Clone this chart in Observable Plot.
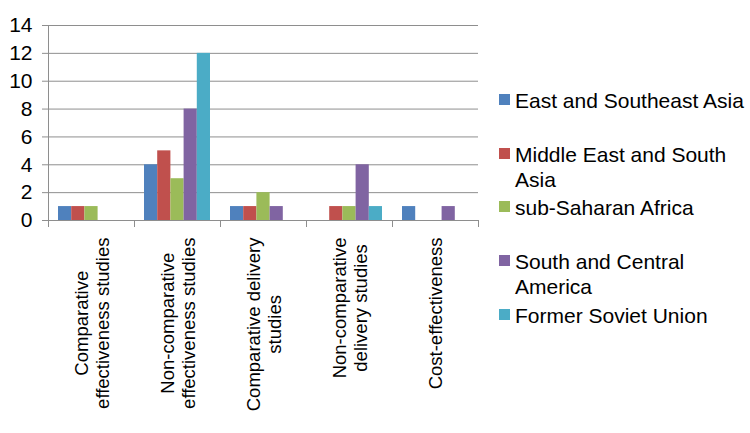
<!DOCTYPE html>
<html><head><meta charset="utf-8">
<script src="https://cdn.jsdelivr.net/npm/d3@7"></script>
<script src="https://cdn.jsdelivr.net/npm/@observablehq/plot@0.6"></script>
<style>
body{margin:0;background:#fff;font-family:"Liberation Sans",Arial,sans-serif;}
#wrap{position:relative;width:750px;height:433px;overflow:hidden;}
.leg{position:absolute;left:499px;font-size:21px;line-height:25px;color:#000;white-space:nowrap;}
.leg .sw{position:absolute;left:0;top:6px;width:11px;height:11px;}
.leg .tx{position:absolute;left:16px;top:0;}
</style></head><body><div id="wrap"></div>
<script>
const categories = ["Comparative\neffectiveness studies","Non-comparative\neffectiveness studies","Comparative delivery\nstudies","Non-comparative\ndelivery studies","Cost-effectiveness"];
const series = ["East and Southeast Asia","Middle East and South Asia","sub-Saharan Africa","South and Central America","Former Soviet Union"];
const eastSoutheastAsia   = [1, 4, 1, 0, 1];
const middleEastSouthAsia = [1, 5, 1, 1, 0];
const subSaharanAfrica    = [1, 3, 2, 1, 0];
const southCentralAmerica = [0, 8, 1, 4, 1];
const formerSovietUnion   = [0, 12, 0, 1, 0];
const colors = ["#4F81BD","#C0504D","#9BBB59","#8064A2","#4BACC6"];
const yTicks = [0, 2, 4, 6, 8, 10, 12, 14];
const legendLines = [["East and Southeast Asia"],["Middle East and South","Asia"],["sub-Saharan Africa"],["South and Central","America"],["Former Soviet Union"]];

const seriesValues = [eastSoutheastAsia, middleEastSouthAsia, subSaharanAfrica, southCentralAmerica, formerSovietUnion];
const rows = [];
categories.forEach((c, i) => series.forEach((s, j) => {
  const v = seriesValues[j][i];
  if (v > 0) rows.push({category: c, series: s, value: v});
}));

const W = 750, H = 433, mL = 48, mR = 272, mT = 25, mB = 213;
const gridColor = "#8e8e8e";
const labelSize = 18.5;
const canvas = document.createElement("canvas");
const ctx = canvas.getContext("2d");
ctx.font = `${labelSize}px "Liberation Sans"`;

const labelMarks = categories.map(c => {
  const w = d3.max(c.split("\n"), l => ctx.measureText(l).width);
  return Plot.text([c], {
    fx: d => d, text: d => d, frameAnchor: "bottom", rotate: -90,
    textAnchor: "middle", lineAnchor: "middle", lineHeight: 1.17,
    dy: 17 + w / 2, fontSize: labelSize, fill: "#000"
  });
});

const plotH = H - mT - mB;
const chart = Plot.plot({
  width: W, height: H,
  marginLeft: mL, marginRight: mR, marginTop: mT, marginBottom: mB,
  style: {fontFamily: "Liberation Sans, Arial, sans-serif", fontSize: "21px", background: "#fff", color: "#000"},
  fx: {domain: categories, padding: 0, axis: null, label: null},
  x: {domain: series, paddingInner: 0, paddingOuter: 0.758, axis: null, round: false},
  y: {domain: [0, 14], axis: null},
  color: {domain: series, range: colors},
  marks: [
    Plot.ruleY(yTicks.slice(1), {stroke: gridColor, strokeWidth: 1}),
    Plot.axisY(yTicks, {tickSize: 6, tickPadding: 10, stroke: gridColor, fill: "#000", fontSize: 21, label: null}),
    Plot.frame({anchor: "left", facet: "super", stroke: gridColor}),
    Plot.frame({anchor: "left", insetTop: plotH, insetBottom: -6, stroke: gridColor}),
    Plot.frame({anchor: "right", insetTop: plotH, insetBottom: -6, stroke: gridColor}),
    Plot.barY(rows, {fx: "category", x: "series", y: "value", fill: "series"}),
    Plot.ruleY([0], {stroke: gridColor, strokeWidth: 1}),
    ...labelMarks
  ]
});
const wrap = document.getElementById("wrap");
wrap.appendChild(chart);

const legendTops = [87.5, 141.5, 195, 249, 302.5];
series.forEach((s, i) => {
  const d = document.createElement("div");
  d.className = "leg";
  d.style.top = legendTops[i] + "px";
  const sw = document.createElement("div");
  sw.className = "sw"; sw.style.background = colors[i];
  const tx = document.createElement("div");
  tx.className = "tx";
  legendLines[i].forEach((l, k) => {
    if (k) tx.appendChild(document.createElement("br"));
    tx.appendChild(document.createTextNode(l));
  });
  d.appendChild(sw); d.appendChild(tx);
  wrap.appendChild(d);
});
</script></body></html>
